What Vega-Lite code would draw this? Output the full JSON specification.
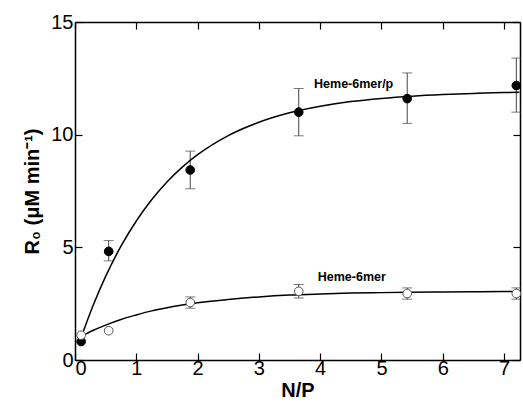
{
  "$schema": "https://vega.github.io/schema/vega-lite/v6.json",
  "width": 445,
  "height": 338,
  "autosize": "none",
  "padding": {"left": 75, "top": 22, "right": 3, "bottom": 52},
  "background": "white",
  "config": {
    "view": {"stroke": null},
    "font": "Liberation Sans",
    "axis": {
      "domainColor": "black", "domainWidth": 1.5, "tickColor": "black", "tickWidth": 1.2,
      "tickSize": -7, "grid": false, "labelFont": "Liberation Sans", "labelFontSize": 20,
      "labelColor": "black", "titleFont": "Liberation Sans", "titleFontSize": 20,
      "titleFontWeight": "bold", "titleColor": "black"
    }
  },
  "datasets": {
    "pts": [
      {"np": 0.1, "r0": 0.82, "lo": null, "hi": null, "series": "Heme-6mer/p"},
      {"np": 0.55, "r0": 4.82, "lo": 4.4, "hi": 5.3, "series": "Heme-6mer/p"},
      {"np": 1.88, "r0": 8.43, "lo": 7.6, "hi": 9.27, "series": "Heme-6mer/p"},
      {"np": 3.65, "r0": 11.0, "lo": 9.95, "hi": 12.05, "series": "Heme-6mer/p"},
      {"np": 5.42, "r0": 11.6, "lo": 10.5, "hi": 12.74, "series": "Heme-6mer/p"},
      {"np": 7.2, "r0": 12.18, "lo": 11.0, "hi": 13.4, "series": "Heme-6mer/p"},
      {"np": 0.1, "r0": 1.1, "lo": null, "hi": null, "series": "Heme-6mer"},
      {"np": 0.55, "r0": 1.3, "lo": null, "hi": null, "series": "Heme-6mer"},
      {"np": 1.88, "r0": 2.55, "lo": 2.3, "hi": 2.8, "series": "Heme-6mer"},
      {"np": 3.65, "r0": 3.05, "lo": 2.75, "hi": 3.35, "series": "Heme-6mer"},
      {"np": 5.42, "r0": 2.95, "lo": 2.7, "hi": 3.2, "series": "Heme-6mer"},
      {"np": 7.2, "r0": 2.95, "lo": 2.7, "hi": 3.2, "series": "Heme-6mer"}
    ],
    "fit": [
      {"np": 0.1, "r0": 1.0, "series": "Heme-6mer/p"},
      {"np": 0.3, "r0": 2.45, "series": "Heme-6mer/p"},
      {"np": 0.5, "r0": 3.71, "series": "Heme-6mer/p"},
      {"np": 0.75, "r0": 5.05, "series": "Heme-6mer/p"},
      {"np": 1.0, "r0": 6.17, "series": "Heme-6mer/p"},
      {"np": 1.25, "r0": 7.11, "series": "Heme-6mer/p"},
      {"np": 1.5, "r0": 7.9, "series": "Heme-6mer/p"},
      {"np": 1.75, "r0": 8.56, "series": "Heme-6mer/p"},
      {"np": 2.0, "r0": 9.11, "series": "Heme-6mer/p"},
      {"np": 2.5, "r0": 9.96, "series": "Heme-6mer/p"},
      {"np": 3.0, "r0": 10.55, "series": "Heme-6mer/p"},
      {"np": 3.5, "r0": 10.97, "series": "Heme-6mer/p"},
      {"np": 4.0, "r0": 11.26, "series": "Heme-6mer/p"},
      {"np": 4.5, "r0": 11.47, "series": "Heme-6mer/p"},
      {"np": 5.0, "r0": 11.61, "series": "Heme-6mer/p"},
      {"np": 5.5, "r0": 11.71, "series": "Heme-6mer/p"},
      {"np": 6.0, "r0": 11.78, "series": "Heme-6mer/p"},
      {"np": 6.5, "r0": 11.83, "series": "Heme-6mer/p"},
      {"np": 7.0, "r0": 11.87, "series": "Heme-6mer/p"},
      {"np": 7.25, "r0": 11.88, "series": "Heme-6mer/p"},
      {"np": 0.1, "r0": 1.05, "series": "Heme-6mer"},
      {"np": 0.3, "r0": 1.32, "series": "Heme-6mer"},
      {"np": 0.5, "r0": 1.55, "series": "Heme-6mer"},
      {"np": 0.75, "r0": 1.8, "series": "Heme-6mer"},
      {"np": 1.0, "r0": 2.0, "series": "Heme-6mer"},
      {"np": 1.25, "r0": 2.18, "series": "Heme-6mer"},
      {"np": 1.5, "r0": 2.32, "series": "Heme-6mer"},
      {"np": 1.75, "r0": 2.44, "series": "Heme-6mer"},
      {"np": 2.0, "r0": 2.54, "series": "Heme-6mer"},
      {"np": 2.5, "r0": 2.69, "series": "Heme-6mer"},
      {"np": 3.0, "r0": 2.8, "series": "Heme-6mer"},
      {"np": 3.5, "r0": 2.88, "series": "Heme-6mer"},
      {"np": 4.0, "r0": 2.93, "series": "Heme-6mer"},
      {"np": 4.5, "r0": 2.97, "series": "Heme-6mer"},
      {"np": 5.0, "r0": 2.99, "series": "Heme-6mer"},
      {"np": 5.5, "r0": 3.01, "series": "Heme-6mer"},
      {"np": 6.0, "r0": 3.02, "series": "Heme-6mer"},
      {"np": 6.5, "r0": 3.03, "series": "Heme-6mer"},
      {"np": 7.0, "r0": 3.04, "series": "Heme-6mer"},
      {"np": 7.25, "r0": 3.04, "series": "Heme-6mer"}
    ],
    "labels": [
      {"np": 3.9, "r0": 12.25, "text": "Heme-6mer/p"},
      {"np": 3.96, "r0": 3.68, "text": "Heme-6mer"}
    ]
  },
  "resolve": {"axis": {"x": "independent", "y": "independent"}},
  "layer": [
    {
      "data": {"name": "pts"},
      "transform": [{"filter": "datum.lo != null"}],
      "mark": {"type": "rule", "color": "#444", "strokeWidth": 1},
      "encoding": {
        "x": {"field": "np", "type": "quantitative", "scale": {"domain": [0, 7.26], "nice": false},
              "axis": {"orient": "bottom", "title": "N/P", "values": [0,1,2,3,4,5,6,7], "labelPadding": 5, "titlePadding": 2}},
        "y": {"field": "lo", "type": "quantitative", "scale": {"domain": [0, 15], "nice": false},
              "axis": {"orient": "left", "title": "R₀ (μM min⁻¹)", "values": [0,5,10,15], "labelPadding": 9, "titlePadding": 8}},
        "y2": {"field": "hi"}
      }
    },
    {
      "data": {"name": "pts"},
      "transform": [{"filter": "datum.lo != null"}],
      "mark": {"type": "tick", "orient": "horizontal", "color": "#444", "size": 10, "thickness": 1},
      "encoding": {
        "x": {"field": "np", "type": "quantitative", "axis": null},
        "y": {"field": "lo", "type": "quantitative", "axis": null}
      }
    },
    {
      "data": {"name": "pts"},
      "transform": [{"filter": "datum.lo != null"}],
      "mark": {"type": "tick", "orient": "horizontal", "color": "#444", "size": 10, "thickness": 1},
      "encoding": {
        "x": {"field": "np", "type": "quantitative", "axis": null},
        "y": {"field": "hi", "type": "quantitative", "axis": null}
      }
    },
    {
      "data": {"name": "fit"},
      "mark": {"type": "line", "color": "black", "strokeWidth": 1.5, "interpolate": "monotone"},
      "encoding": {
        "x": {"field": "np", "type": "quantitative",
              "axis": {"orient": "top", "title": null, "labels": false, "values": [0,1,2,3,4,5,6,7]}},
        "y": {"field": "r0", "type": "quantitative",
              "axis": {"orient": "right", "title": null, "labels": false, "values": [0,5,10,15]}},
        "detail": {"field": "series"}
      }
    },
    {
      "data": {"name": "pts"},
      "mark": {"type": "point", "shape": "circle", "size": 75, "strokeWidth": 1, "opacity": 1, "filled": false},
      "encoding": {
        "x": {"field": "np", "type": "quantitative", "axis": null},
        "y": {"field": "r0", "type": "quantitative", "axis": null},
        "fill": {"field": "series", "type": "nominal", "scale": {"domain": ["Heme-6mer/p", "Heme-6mer"], "range": ["black", "white"]}, "legend": null},
        "stroke": {"field": "series", "type": "nominal", "scale": {"domain": ["Heme-6mer/p", "Heme-6mer"], "range": ["black", "#555"]}, "legend": null}
      }
    },
    {
      "data": {"name": "labels"},
      "mark": {"type": "text", "align": "left", "baseline": "middle", "font": "Liberation Sans", "fontWeight": "bold", "fontSize": 12.5, "color": "black"},
      "encoding": {
        "x": {"field": "np", "type": "quantitative", "axis": null},
        "y": {"field": "r0", "type": "quantitative", "axis": null},
        "text": {"field": "text"}
      }
    }
  ]
}
